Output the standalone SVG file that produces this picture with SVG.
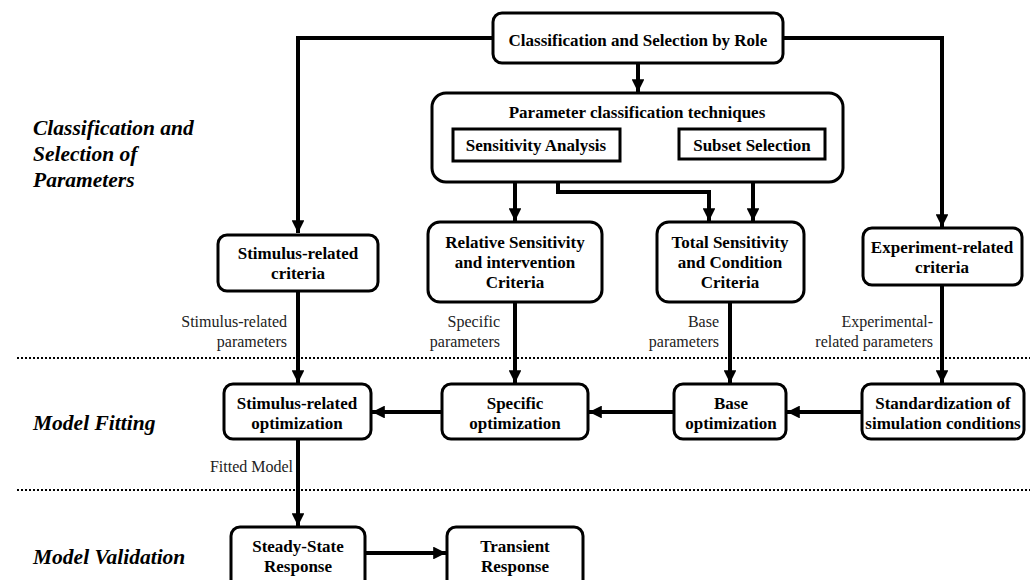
<svg xmlns="http://www.w3.org/2000/svg" width="1030" height="580" viewBox="0 0 1030 580" font-family="'Liberation Serif', serif">
<style>
text{font-family:'Liberation Serif',serif}
.box{fill:#fff;stroke:#000;stroke-width:3}
.t{font-weight:bold;font-size:17px;text-anchor:middle;fill:#000}
.lbl{font-size:16px;text-anchor:end;fill:#222}
.side{font-weight:bold;font-style:italic;font-size:21.5px;fill:#000}
.ca{fill:none;stroke:#000;stroke-width:4;marker-end:url(#ah)}
.dot{stroke:#000;stroke-width:2;stroke-dasharray:2 2}
</style>
<defs>
<marker id="ah" viewBox="0 0 10 10" refX="10" refY="5" markerWidth="3.2" markerHeight="3.2" markerUnits="strokeWidth" orient="auto">
<path d="M0,0 L10,5 L0,10 z" fill="#000"/>
</marker>
</defs>
<rect width="1030" height="580" fill="#fff"/>

<g id="side-labels">
<text class="side" x="33" y="135">Classification and</text>
<text class="side" x="33" y="161">Selection of</text>
<text class="side" x="33" y="187">Parameters</text>
<text class="side" x="33" y="430">Model Fitting</text>
<text class="side" x="33" y="564">Model Validation</text>
</g>

<g id="separators">
<line class="dot" x1="17" y1="358" x2="1030" y2="358"/>
<line class="dot" x1="17" y1="490" x2="1030" y2="490"/>
</g>

<g id="connectors">
<polyline class="ca" points="493,38 298,38 298,233"/>
<polyline class="ca" points="783,38 942,38 942,227"/>
<polyline class="ca" points="638,63 638,92"/>
<polyline class="ca" points="515,161 515,221"/>
<polyline class="ca" points="558,161 558,192 709,192 709,221"/>
<polyline class="ca" points="753,159 753,221"/>
<polyline class="ca" points="298,291 298,383"/>
<polyline class="ca" points="515,302 515,383"/>
<polyline class="ca" points="730,302 730,383"/>
<polyline class="ca" points="942,285 942,383"/>
<polyline class="ca" points="862,412 787,412"/>
<polyline class="ca" points="674,412 589,412"/>
<polyline class="ca" points="442,412 372,412"/>
<polyline class="ca" points="298,439 298,526"/>
<polyline class="ca" points="365,553 446,553"/>
</g>

<g id="edge-labels">
<text class="lbl" x="287" y="327">Stimulus-related</text>
<text class="lbl" x="287" y="347">parameters</text>
<text class="lbl" x="500" y="327">Specific</text>
<text class="lbl" x="500" y="347">parameters</text>
<text class="lbl" x="719" y="327">Base</text>
<text class="lbl" x="719" y="347">parameters</text>
<text class="lbl" x="933" y="327">Experimental-</text>
<text class="lbl" x="933" y="347">related parameters</text>
<text class="lbl" x="293" y="472">Fitted Model</text>
</g>

<g id="n-role">
<rect class="box" x="493" y="13" width="290" height="50" rx="9"/>
<text class="t" x="638" y="46">Classification and Selection by Role</text>
</g>

<g id="n-techniques">
<rect class="box" x="432" y="93" width="411" height="89" rx="14"/>
<text class="t" x="637" y="118">Parameter classification techniques</text>
</g>

<g id="n-sensitivity">
<rect class="box" x="453" y="129" width="167" height="32"/>
<text class="t" x="536" y="151">Sensitivity Analysis</text>
</g>

<g id="n-subset">
<rect class="box" x="679" y="129" width="146" height="30"/>
<text class="t" x="752" y="151">Subset Selection</text>
</g>

<g id="n-stimulus-criteria">
<rect class="box" x="218" y="235" width="160" height="56" rx="9"/>
<text class="t" x="298" y="259">Stimulus-related</text>
<text class="t" x="298" y="279">criteria</text>
</g>

<g id="n-relative">
<rect class="box" x="428" y="222" width="174" height="80" rx="12"/>
<text class="t" x="515" y="248">Relative Sensitivity</text>
<text class="t" x="515" y="268">and intervention</text>
<text class="t" x="515" y="288">Criteria</text>
</g>

<g id="n-total">
<rect class="box" x="657" y="222" width="147" height="80" rx="12"/>
<text class="t" x="730" y="248">Total Sensitivity</text>
<text class="t" x="730" y="268">and Condition</text>
<text class="t" x="730" y="288">Criteria</text>
</g>

<g id="n-experiment-criteria">
<rect class="box" x="863" y="228" width="159" height="57" rx="9"/>
<text class="t" x="942" y="253">Experiment-related</text>
<text class="t" x="942" y="273">criteria</text>
</g>

<g id="n-stimulus-opt">
<rect class="box" x="224" y="384" width="147" height="55" rx="9"/>
<text class="t" x="297" y="409">Stimulus-related</text>
<text class="t" x="297" y="429">optimization</text>
</g>

<g id="n-specific-opt">
<rect class="box" x="442" y="384" width="146" height="55" rx="9"/>
<text class="t" x="515" y="409">Specific</text>
<text class="t" x="515" y="429">optimization</text>
</g>

<g id="n-base-opt">
<rect class="box" x="674" y="384" width="112" height="55" rx="9"/>
<text class="t" x="731" y="409">Base</text>
<text class="t" x="731" y="429">optimization</text>
</g>

<g id="n-standard">
<rect class="box" x="862" y="384" width="162" height="55" rx="9"/>
<text class="t" x="943" y="409">Standardization of</text>
<text class="t" x="943" y="429">simulation conditions</text>
</g>

<g id="n-steady">
<rect class="box" x="231" y="527" width="134" height="62" rx="9"/>
<text class="t" x="298" y="552">Steady-State</text>
<text class="t" x="298" y="572">Response</text>
</g>

<g id="n-transient">
<rect class="box" x="447" y="527" width="136" height="62" rx="9"/>
<text class="t" x="515" y="552">Transient</text>
<text class="t" x="515" y="572">Response</text>
</g>
</svg>
